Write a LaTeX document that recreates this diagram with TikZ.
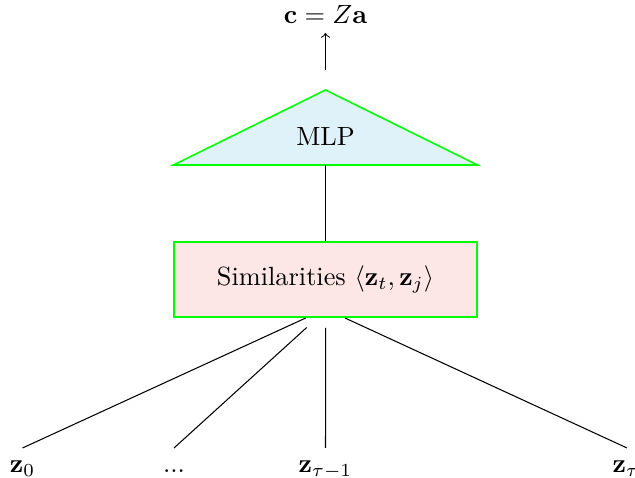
\documentclass[tikz,border=0pt]{standalone}
\usepackage{amsmath}
\definecolor{mlpfill}{RGB}{224,242,249}
\definecolor{simfill}{RGB}{253,230,230}
\definecolor{edgegreen}{RGB}{0,255,0}
\begin{document}
\begin{tikzpicture}[x=0.38pt,y=-0.38pt, line width=0.4pt,
  blockline/.style={draw=edgegreen, line width=0.6pt},
  zlabel/.style={anchor=north, inner sep=3.1pt, text height=6pt}]
\useasboundingbox (0,0) rectangle (635,478);
% output
\node[anchor=south] (c) at (325.5,33) {$\mathbf{c} = Z\mathbf{a}$};
\coordinate (arrowfoot) at (325.5,70);
\draw[->] (arrowfoot) -- (c);
% MLP triangle
\coordinate (apex) at (325.5,90);
\coordinate (bl) at (173.5,165);
\coordinate (br) at (477.5,165);
\path[blockline, fill=mlpfill] (apex) -- (br) -- (bl) -- cycle;
\node (mlp) at (325.5,136.5) {MLP};
\coordinate (tribase) at (325.5,165);
% similarities box
\node[blockline, fill=simfill, minimum width=115.1pt, minimum height=28.5pt] (sim) at (325.5,279.6)
  {Similarities $\langle \mathbf{z}_t, \mathbf{z}_j \rangle$};
\draw (tribase) -- (sim);
% inputs
\coordinate (s1) at (305.7,318);
\coordinate (s2) at (306.7,327.5);
\coordinate (s3) at (325.7,328);
\coordinate (s4) at (345,318);
\node[zlabel] (z0) at (22.5,448) {$\mathbf{z}_0$};
\node[zlabel] (zd) at (174,448) {...};
\node[zlabel] (zt1) at (325.5,448) {$\mathbf{z}_{\tau-1}$};
\node[zlabel] (zt) at (626,448) {$\mathbf{z}_\tau$};
\draw (z0.north) -- (s1);
\draw (zd.north) -- (s2);
\draw (zt1.north) -- (s3);
\draw ([xshift=0.4pt]zt.north) -- (s4);
\end{tikzpicture}
\end{document}
